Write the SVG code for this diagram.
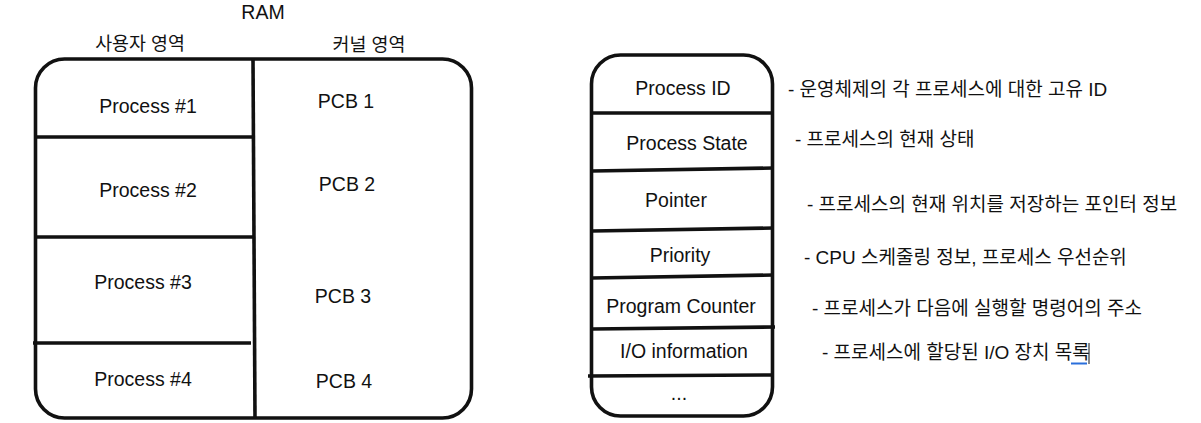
<svg xmlns="http://www.w3.org/2000/svg" width="1201" height="423" viewBox="0 0 1201 423">
<style>
.box{fill:none;stroke:#111;stroke-width:3.6;stroke-linecap:round;stroke-linejoin:round}
.div{fill:none;stroke:#111;stroke-width:3.6;stroke-linecap:butt}
.t{font-family:"Liberation Sans","Noto Sans CJK KR",sans-serif;font-size:19.5px;fill:#111;text-anchor:middle}
.k{font-family:"Liberation Sans","Noto Sans CJK KR",sans-serif;font-size:18.4px;fill:#111;text-anchor:middle}
.a{font-family:"Liberation Sans","Noto Sans CJK KR",sans-serif;font-size:19px;fill:#111}
</style>
<rect width="1201" height="423" fill="#fff"/>
<g id="ram">
  <text class="t" x="263" y="19">RAM</text>
  <text class="k" x="140" y="49.5">사용자 영역</text>
  <text class="k" x="369" y="50.5">커널 영역</text>
  <rect class="box" x="35.5" y="59" width="436" height="359" rx="29" ry="29"/>
  <path class="div" d="M253 59 L255 418"/>
  <path class="div" d="M36 137 L254 137"/>
  <path class="div" d="M36 237 L254 237"/>
  <path class="div" d="M33 343 L251 343"/>
</g>
<g id="process1"><text class="t" x="148" y="113">Process #1</text></g>
<g id="process2"><text class="t" x="148" y="197">Process #2</text></g>
<g id="process3"><text class="t" x="143" y="289">Process #3</text></g>
<g id="process4"><text class="t" x="143" y="386">Process #4</text></g>
<g id="pcb1"><text class="t" x="346" y="108">PCB 1</text></g>
<g id="pcb2"><text class="t" x="347" y="191">PCB 2</text></g>
<g id="pcb3"><text class="t" x="343" y="303">PCB 3</text></g>
<g id="pcb4"><text class="t" x="344" y="388">PCB 4</text></g>
<g id="pcb">
  <rect class="box" x="591.5" y="55" width="181" height="361" rx="29" ry="29"/>
  <path class="div" d="M592 113 L773 113"/>
  <path class="div" d="M592 171 L773 168"/>
  <path class="div" d="M592 231 L773 228"/>
  <path class="div" d="M592 278 L773 275"/>
  <path class="div" d="M592 329 L775 327"/>
  <path class="div" d="M588 376 L773 375"/>
</g>
<g id="f-pid"><text class="t" x="683" y="95">Process ID</text></g>
<g id="f-state"><text class="t" x="687" y="150">Process State</text></g>
<g id="f-pointer"><text class="t" x="676" y="207">Pointer</text></g>
<g id="f-priority"><text class="t" x="680" y="262">Priority</text></g>
<g id="f-pc"><text class="t" x="681" y="313">Program Counter</text></g>
<g id="f-io"><text class="t" x="684" y="358">I/O information</text></g>
<g id="f-more"><text class="t" x="679" y="400">...</text></g>
<g id="notes">
  <text class="a" x="788" y="96">- 운영체제의 각 프로세스에 대한 고유 ID</text>
  <text class="a" x="795" y="146">- 프로세스의 현재 상태</text>
  <text class="a" x="807" y="211">- 프로세스의 현재 위치를 저장하는 포인터 정보</text>
  <text class="a" x="804" y="264">- CPU 스케줄링 정보, 프로세스 우선순위</text>
  <text class="a" x="812" y="315">- 프로세스가 다음에 실행할 명령어의 주소</text>
  <text class="a" x="822" y="359">- 프로세스에 할당된 I/O 장치 목록</text>
  <path d="M1071 363.5 L1087 363.5" stroke="#2a6fdb" stroke-width="2" fill="none"/>
  <path d="M1089 343 L1089 364" stroke="#111" stroke-width="1" fill="none"/>
</g>
</svg>
